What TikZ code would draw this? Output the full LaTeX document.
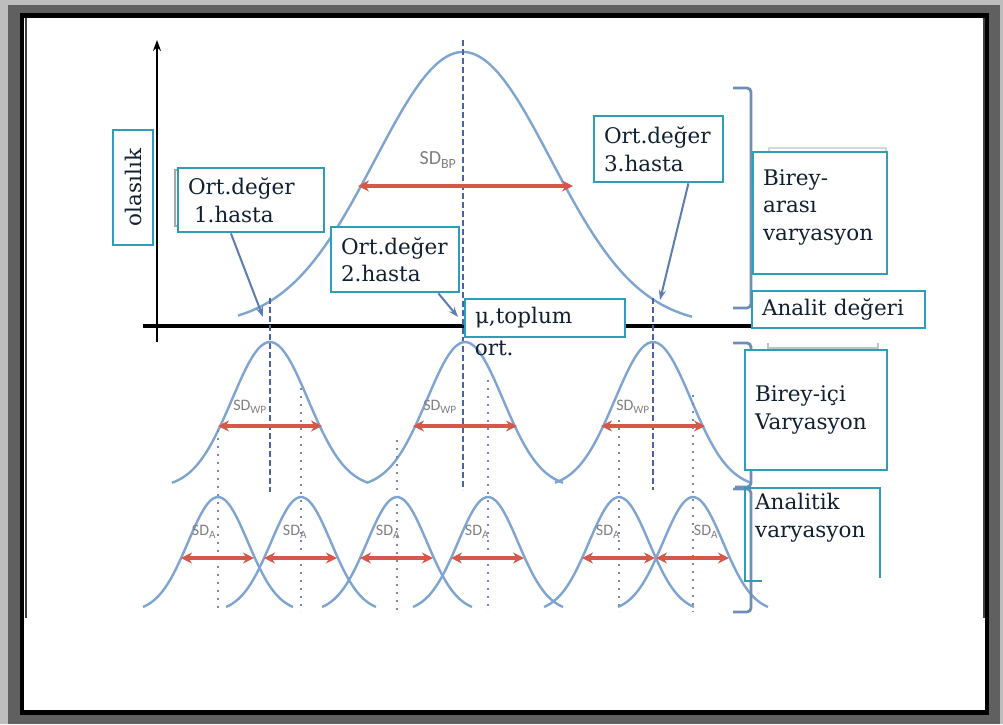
\documentclass[tikz,border=0pt]{standalone}
\usepackage{fontspec}
\setmainfont{DejaVu Serif}
\newfontfamily\sdfont{Carlito}
\usepackage{tikz}
\usetikzlibrary{arrows.meta,positioning}
\definecolor{edgeg}{HTML}{BDBDBD}
\definecolor{frameg}{HTML}{606060}
\definecolor{tealb}{HTML}{2E9DB6}
\definecolor{inkc}{HTML}{102030}
\definecolor{curveb}{HTML}{7EA4D0}
\definecolor{meanb}{HTML}{4B63A6}
\definecolor{dotb}{HTML}{7A88A6}
\definecolor{sdred}{HTML}{D6584A}
\definecolor{ptrb}{HTML}{5B7DB3}
\definecolor{brk}{HTML}{6F8DB9}
\definecolor{ghostg}{HTML}{A8A8A8}
\newcommand{\boxfont}{\fontsize{21.5}{27.5}\selectfont}
\tikzset{
  box/.style={rectangle, draw=tealb, fill=white, line width=2.8pt, text=inkc, align=left,
              inner xsep=10pt, inner ysep=0pt, font=\boxfont},
  txt/.style={text=inkc, align=left, inner sep=0pt, font=\boxfont},
  curve/.style={draw=curveb, line width=2.4pt},
  meanline/.style={draw=meanb, line width=2pt, dash pattern=on 6pt off 3pt},
  sdline/.style={draw=dotb, line width=2pt, dash pattern=on 2pt off 6pt},
  sdarr/.style={{Stealth[length=11pt,width=11pt]}-{Stealth[length=11pt,width=11pt]}, draw=sdred, line width=3.2pt},
  sdlbl/.style={text=gray, font=\sdfont\fontsize{16}{16}\selectfont, inner sep=0pt},
  ptr/.style={-{Stealth[length=10pt,width=7pt]}, draw=ptrb, line width=2pt},
  brace/.style={draw=brk, line width=2.8pt, rounded corners=4pt},
  axis/.style={draw=black, line width=3.4pt}
}
\begin{document}
\begin{tikzpicture}[x=1pt, y=-1pt]
  \useasboundingbox (0,0) rectangle (1003,724);
  % frame
  \fill[edgeg] (0,0) rectangle (1003,724);
  \fill[frameg] (8,5) rectangle (1000,724);
  \fill[black] (20,13) rectangle (989,715);
  \fill[white] (24,18) rectangle (985,710);
  \draw[black!75, line width=1.5pt] (26,18) -- (26,618) (984,18) -- (984,618);

  % axes
  \draw[axis] (143,326) -- (770,326);
  \draw[axis, line width=2.4pt, -{Stealth[length=11pt,width=8pt]}] (157,342) -- (157,40);

  % population curve
  \draw[curve] plot[domain=238:692, samples=90, smooth] (\x,{326-274*exp(-0.5*((\x-463)/88)^2)});
  \draw[meanline] (463,40) -- (463,490);
  \draw[meanline] (270,298) -- (270,492);
  \draw[meanline] (653,298) -- (653,490);
  \coordinate (bl) at (358,186);
  \coordinate (br) at (573,186);
  \draw[sdarr] (bl) -- (br);
  \node[sdlbl, font=\sdfont\fontsize{20}{20}\selectfont] (sdbp) at (438,160) {SD\textsubscript{BP}};

  % within-person curves
  \foreach \c/\i/\o in {270/1/-20,465/2/-25,653/3/-20} {
    \draw[curve] plot[domain=\c-98:\c+98, samples=60, smooth] (\x,{488-146*exp(-0.5*((\x-\c)/38)^2)});
    \coordinate (wl\i) at (\c-52,426);
    \coordinate (wr\i) at (\c+52,426);
    \draw[sdarr] (wl\i) -- (wr\i);
    \node[sdlbl] (sdwp\i) at (\c+\o,407) {SD\textsubscript{WP}};
  }

  % analytical curves
  \foreach \c/\i/\o/\s in {218/1/-14/430,301/2/-6/388,397/3/-9/440,488/4/-11/380,619/5/-11/420,693/6/13/395} {
    \draw[sdline] (\c,\s) -- (\c,612);
    \draw[curve] plot[domain=\c-75:\c+75, samples=50, smooth] (\x,{612-115*exp(-0.5*((\x-\c)/30)^2)});
    \coordinate (al\i) at (\c-37,558);
    \coordinate (ar\i) at (\c+36,558);
    \draw[sdarr] (al\i) -- (ar\i);
    \node[sdlbl] (sda\i) at (\c+\o,532) {SD\textsubscript{A}};
  }

  % brackets
  \draw[brace] (733,88) -| (751,308) -- (733,308);
  \draw[brace] (733,343) -| (751,487) -- (735,487);
  \draw[brace] (733,489) -| (751,612) -- (733,612);

  % ghost frames behind boxes
  \draw[ghostg, line width=1.5pt] (175,170) rectangle (240,226);
  \draw[ghostg!45, line width=2pt] (769,148) rectangle (886,250);
  \draw[ghostg!70, line width=1.2pt] (768,343) -- (768,350) (768,348) -- (878,348) (878,343) -- (878,350);

  % labels
  \node[box, rotate=90, minimum width=115pt, minimum height=40pt, inner xsep=4pt] (ol) at (133,187.5) {olasılık};
  \node[box, text width=126pt, minimum height=64pt] (h1) at (251,200) {Ort.değer\\\hspace*{6pt}1.hasta};
  \node[box, text width=108pt, minimum height=65pt] (h2) at (395,259.5) {Ort.değer\\2.hasta};
  \node[box, text width=109pt, minimum height=66pt] (h3) at (658.5,149) {Ort.değer\\3.hasta};
  \node[box, text width=114pt, minimum height=122pt] (ba) at (820,213) {Birey-\\arası\\varyasyon\\[-11pt]\mbox{}};
  \node[box, text width=153pt, minimum height=37pt] (ad) at (838.5,309.5) {Analit değeri};
  \node[box, text width=140pt, minimum height=38pt] (mu) at (545,318) {μ,toplum};
  \node[txt, below right=2pt and 11pt of mu.south west] (muo) {ort.};
  \node[box, text width=122pt, minimum height=120pt] (bi) at (816,410) {Birey-içi\\Varyasyon};
  \draw[draw=tealb, line width=2.8pt] (762,581) -| (745,488) -| (880,578);
  \node[txt, anchor=north west] (an) at (755,493) {Analitik\\varyasyon};

  % pointers to patient means
  \coordinate (m1) at (263,317);
  \coordinate (m2) at (458,317);
  \coordinate (m3) at (660,300);
  \draw[ptr] (h1.239) -- (m1);
  \draw[ptr] (h2.322) -- (m2);
  \draw[ptr] (h3.311) -- (m3);
\end{tikzpicture}
\end{document}
